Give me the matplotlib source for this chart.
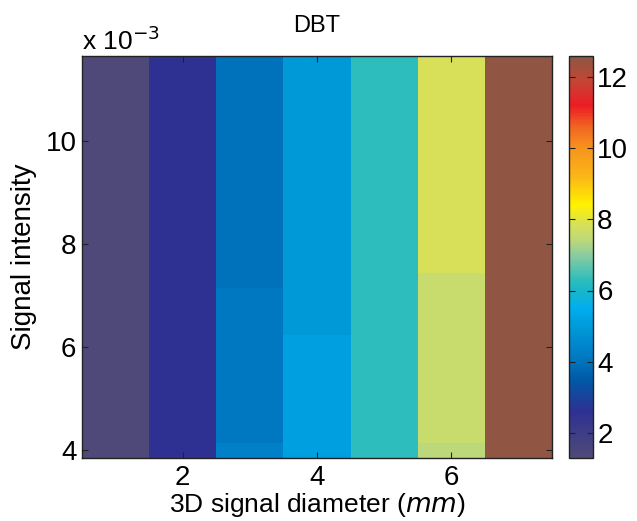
import numpy as np
import matplotlib
matplotlib.use('Agg')
import matplotlib.pyplot as plt
from matplotlib.colors import LinearSegmentedColormap
from matplotlib.ticker import FuncFormatter

plt.rcParams['font.family'] = ['Liberation Sans', 'DejaVu Sans']

# data
diametros = [1, 2, 3, 4, 5, 6, 7]
x_bordes = [0.5, 1.5, 2.5, 3.5, 4.5, 5.5, 6.5, 7.5]
y_bordes = [3.845e-3, 4.136e-3, 6.233e-3, 7.146e-3, 7.437e-3, 11.65e-3]
valores = [
    [1.35, 2.6, 4.30, 5.15, 6.3, 7.40, 12.5],
    [1.35, 2.6, 4.10, 5.15, 6.3, 7.60, 12.5],
    [1.35, 2.6, 4.10, 4.95, 6.3, 7.60, 12.5],
    [1.35, 2.6, 3.95, 4.95, 6.3, 7.60, 12.5],
    [1.35, 2.6, 3.95, 4.95, 6.3, 7.85, 12.5],
]
vmin, vmax = 1.3, 12.58

# colormap parecido al original
anclas = [
    (1.3, '#4f4a78'), (2.6, '#2e3192'), (3.5, '#005aa8'), (3.95, '#0071bb'),
    (4.1, '#0079c2'), (4.3, '#0080c8'), (4.95, '#009ad8'), (5.15, '#00a0e0'),
    (5.5, '#00aeef'), (6.0, '#1ab6c8'), (6.3, '#2ebdbd'), (7.0, '#8ccca0'),
    (7.4, '#bcd87a'), (7.6, '#c8dc6c'), (7.85, '#d7e058'), (8.4, '#fff200'),
    (9.2, '#fbb616'), (10.0, '#f7941d'), (10.6, '#f26522'), (11.2, '#ed1c24'),
    (11.9, '#c44535'), (12.58, '#8c5744'),
]
cmap = LinearSegmentedColormap.from_list(
    'dbt', [((v - vmin) / (vmax - vmin), c) for v, c in anclas])

fig = plt.figure(figsize=(6.37, 5.21), dpi=100)
ax = fig.add_axes([82 / 637, 63 / 521, 470 / 637, 402 / 521])
cax = fig.add_axes([569 / 637, 63 / 521, 24 / 637, 402 / 521])

malla = ax.pcolormesh(x_bordes, y_bordes, np.array(valores), cmap=cmap,
                      vmin=vmin, vmax=vmax, shading='flat')
ax.set_xlim(x_bordes[0], x_bordes[-1])
ax.set_ylim(y_bordes[0], y_bordes[-1])
ax.set_xticks([2, 4, 6])
ax.set_yticks([4e-3, 6e-3, 8e-3, 10e-3])
ax.yaxis.set_major_formatter(FuncFormatter(lambda v, p: f"{v * 1e3:g}"))
ax.tick_params(direction='in', top=True, right=True, labelsize=20,
               length=4, width=0.8, color='#222222')
ax.tick_params(axis='x', pad=5)
ax.tick_params(axis='y', pad=4)
for s in ax.spines.values():
    s.set_linewidth(1.0)
    s.set_color('#222222')

ax.set_title('DBT', fontsize=17, pad=17)
ax.set_xlabel('3D signal diameter ($\\it{mm}$)', fontsize=19, labelpad=0)
ax.set_ylabel('Signal intensity', fontsize=20, labelpad=6)
ax.annotate('x 10$^{-3}$', xy=(0.0, 1.0), xycoords='axes fraction',
            xytext=(0, 4), textcoords='offset points', fontsize=19,
            ha='left', va='baseline')

cb = fig.colorbar(malla, cax=cax)
cb.set_ticks([2, 4, 6, 8, 10, 12])
cax.tick_params(direction='in', left=True, right=True, labelsize=20,
                length=4, width=0.8, color='#222222', pad=3)
cb.outline.set_linewidth(1.0)
cb.outline.set_edgecolor('#222222')

plt.savefig('out.png', dpi=100)
plt.close()
